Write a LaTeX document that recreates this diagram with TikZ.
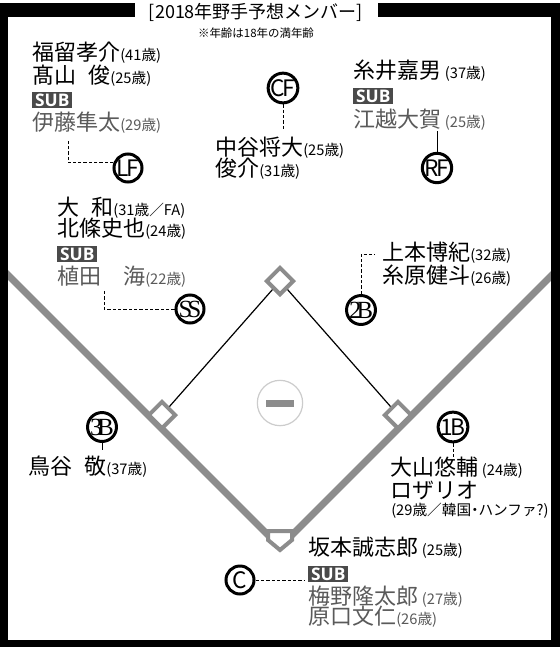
\documentclass[tikz,border=0pt]{standalone}
\usepackage{fontspec}
\usepackage{graphicx}
\usetikzlibrary{shapes.geometric}
\setmainfont{Noto Sans CJK JP}
\newfontfamily\jpf{Noto Sans CJK JP}
\newfontfamily\subf{Open Sans}
\newfontfamily\posserif{Liberation Serif}
\definecolor{fieldgray}{HTML}{8C8C8C}
\definecolor{subgray}{HTML}{5A5A5A}
\definecolor{subbox}{HTML}{4A4A4A}
\definecolor{moundline}{HTML}{CCCCCC}
\newcommand{\ag}[1]{{\fontsize{11pt}{12pt}\selectfont #1}}
\newcommand{\kk}{\kern-0.12em}
\begin{document}
\begin{tikzpicture}[x=0.75pt,y=-0.75pt,
  pname/.style={anchor=west, inner sep=0pt, font=\jpf\fontsize{16.5pt}{18pt}\selectfont},
  subname/.style={pname, text=subgray},
  subtag/.style={anchor=west, fill=subbox, text=white, inner sep=0pt,
     minimum width=30pt, minimum height=12pt, font=\subf\bfseries\fontsize{13pt}{13pt}\selectfont},
  poscirc/.style={circle, draw=black, line width=2.25pt, fill=white, minimum size=21pt,
     inner sep=0pt, font=\jpf\fontsize{17pt}{17pt}\selectfont},
  poscircs/.style={poscirc, font=\posserif\fontsize{18.5pt}{18.5pt}\selectfont},
  basebag/.style={diamond, draw=fieldgray, line width=3pt, fill=white,
     minimum width=21pt, minimum height=21pt, inner sep=0pt},
  conn/.style={line width=0.75pt, dash pattern=on 2.5pt off 1.5pt},
  solidconn/.style={line width=0.75pt},
  agetext/.style={anchor=west, inner sep=0pt, font=\jpf\fontsize{11pt}{12pt}\selectfont}]
\useasboundingbox (0,0) rectangle (560,647);
\fill[white] (0,0) rectangle (560,647);

% ---- field ----
\coordinate (homept) at (280,547);
\coordinate (lfend) at (0,267);
\coordinate (rfend) at (560,267);
\draw[fieldgray, line width=5.25pt] (lfend) -- (homept) -- (rfend);

\coordinate (c2) at (280,281);
\coordinate (c3) at (162,415);
\coordinate (c1) at (398,415);
\draw[line width=0.9pt] (c3) -- (c2) -- (c1);
\node[basebag] (base2) at (c2) {};
\node[basebag] (base3) at (c3) {};
\node[basebag] (base1) at (c1) {};
\draw[fieldgray, line width=3pt, fill=white, line join=miter]
  (268,531) -- (292,531) -- (292,540) -- (280,550) -- (268,540) -- cycle;

\node[circle, draw=moundline, line width=0.9pt, minimum size=34pt, inner sep=0pt] (mound) at (280,403) {};
\node[fill=fieldgray, minimum width=21pt, minimum height=5.25pt, inner sep=0pt] (rubber) at (mound.center) {};

% ---- title ----
\node[inner sep=0pt, font=\jpf\fontsize{13.5pt}{14pt}\selectfont] (title) at (256,12) {[2018年野手予想メンバー]};
\node[inner sep=0pt, font=\jpf\fontsize{8.6pt}{9pt}\selectfont] (note) at (256,33) {※年齢は18年の満年齢};

% ---- position circles ----
\node[poscirc] (lf) at (128,168) {L\kk F};
\node[poscirc] (cf) at (283,88) {C\kk F};
\node[poscirc] (rf) at (437,168) {R\kk F};
\node[poscircs] (ss) at (190,309) {S\kern-0.2em S};
\node[poscircs] (p2b) at (361,310) {2\kern-0.2em B};
\node[poscircs] (p3b) at (102,427) {3\kern-0.2em B};
\node[poscirc] (p1b) at (453,427) {1\kk B};
\node[poscirc] (pc) at (240,580) {C};

% ---- connectors ----
\coordinate (lfb) at (68,140);
\draw[conn] (lf.160) -- (lf.160 -| lfb) -- (lfb);
\coordinate (cfb) at (283,131);
\draw[conn] (cf.south) -- (cfb);
\coordinate (rfb) at (437,131);
\draw[solidconn] (rf.north) -- (rfb);
\coordinate (ssb) at (104,290);
\draw[conn] (ss.west) -- (ss.west -| ssb) -- (ssb);
\coordinate (tbb) at (375,254);
\draw[conn] (p2b.north) -- (p2b.north |- tbb) -- (tbb);
\coordinate (thb) at (102,450);
\draw[solidconn] (p3b.south) -- (thb);
\coordinate (fbb) at (453,457);
\draw[conn] (p1b.south) -- (fbb);
\coordinate (cb) at (304,580);
\draw[conn] (pc.east) -- (cb);

% ---- LF group ----
\node[pname] (lf1) at (32,53) {福留孝介\ag{(41歳)}};
\node[pname] (lf2) at (32,76) {髙山\hspace{0.55em}俊\ag{(25歳)}};
\node[subtag] (lfsub) at (32,100) {SUB};
\node[subname] (lf3) at (32,123) {伊藤隼太\ag{(29歳)}};

% ---- CF group ----
\node[pname] (cf1) at (215,148) {中谷将大\ag{(25歳)}};
\node[pname] (cf2) at (215,169) {俊介\ag{(31歳)}};

% ---- RF group ----
\node[pname] (rf1) at (353,71) {糸井嘉男\,\ag{(37歳)}};
\node[subtag] (rfsub) at (353,96) {SUB};
\node[subname] (rf2) at (353,120) {江越大賀\,\ag{(25歳)}};

% ---- SS group ----
\node[pname] (ss1) at (57,208) {大\hspace{0.55em}和\ag{(31歳／FA)}};
\node[pname] (ss2) at (57,229) {北條史也\ag{(24歳)}};
\node[subtag] (sssub) at (57,254) {SUB};
\node[subname] (ss3) at (57,277) {植田　海\ag{(22歳)}};

% ---- 2B group ----
\node[pname] (tb1) at (382,253) {上本博紀\ag{(32歳)}};
\node[pname] (tb2) at (382,276) {糸原健斗\ag{(26歳)}};

% ---- 3B group ----
\node[pname] (th1) at (28,467) {鳥谷\hspace{0.55em}敬\ag{(37歳)}};

% ---- 1B group ----
\node[pname] (fb1) at (390,468) {大山悠輔\,\ag{(24歳)}};
\node[pname] (fb2) at (390,490) {ロザリオ};
\node[agetext] (fb3) at (391,511) {(29歳／韓国\kern-0.25em・\kern-0.25emハンファ?)};

% ---- C group ----
\node[pname] (c1n) at (308,548) {坂本誠志郎\,\ag{(25歳)}};
\node[subtag] (csub) at (308,574) {SUB};
\node[subname] (c2n) at (308,597) {梅野隆太郎\,\ag{(27歳)}};
\node[subname] (c3n) at (308,617) {原口文仁\ag{(26歳)}};

% ---- frame ----
\fill[black] (0,3) rectangle (135,17);
\fill[black] (378,3) rectangle (560,17);
\fill[black] (0,3) rectangle (8,647);
\fill[black] (551,3) rectangle (560,647);
\fill[black] (0,640) rectangle (560,647);
\end{tikzpicture}
\end{document}
